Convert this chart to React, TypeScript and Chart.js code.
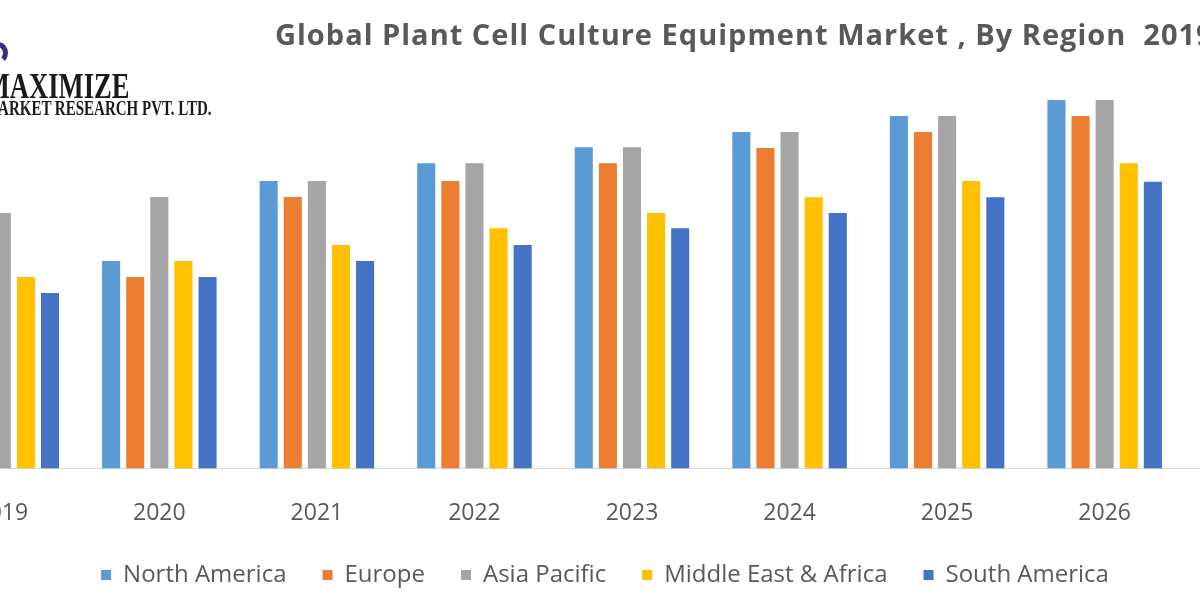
import React, { useEffect, useRef } from "react";
import { Chart, registerables } from "chart.js";

Chart.register(...registerables);

const years = ["2019", "2020", "2021", "2022", "2023", "2024", "2025", "2026", "2027"];
const northAmerica = [47.8, 51.8, 71.8, 76.2, 80.2, 84.0, 88.0, 92.0, null];
const europe = [43.8, 47.8, 67.8, 71.8, 76.2, 80.0, 84.0, 88.0, null];
const asiaPacific = [63.8, 67.8, 71.8, 76.2, 80.2, 84.0, 88.0, 92.0, null];
const middleEastAfrica = [47.8, 51.8, 55.8, 60.0, 63.8, 67.7, 71.8, 76.2, null];
const southAmerica = [43.8, 47.8, 51.8, 55.8, 60.0, 63.8, 67.7, 71.6, null];

const seriesNames = ["North America", "Europe", "Asia Pacific", "Middle East & Africa", "South America"];
const seriesColors = ["#5B9BD5", "#ED7D31", "#A5A5A5", "#FFC000", "#4472C4"];
const seriesValues = [northAmerica, europe, asiaPacific, middleEastAfrica, southAmerica];

const titleText = "Global Plant Cell Culture Equipment Market , By Region  2019-2027";

export default function App() {
  const canvasRef = useRef<HTMLCanvasElement | null>(null);

  useEffect(() => {
    if (!canvasRef.current) return;
    const chart = new Chart(canvasRef.current, {
      type: "bar",
      data: {
        labels: years,
        datasets: seriesNames.map((name, i) => ({
          label: name,
          data: seriesValues[i],
          backgroundColor: seriesColors[i],
          borderWidth: 0,
          categoryPercentage: 0.765,
          barPercentage: 0.75,
        })),
      },
      options: {
        responsive: true,
        maintainAspectRatio: false,
        animation: false,
        layout: { padding: { top: 68, bottom: 3, left: 0, right: 0 } },
        plugins: {
          title: { display: false },
          tooltip: { enabled: false },
          legend: {
            display: true,
            position: "bottom",
            labels: {
              boxWidth: 10,
              boxHeight: 10,
              padding: 36,
              color: "#595959",
              font: { family: "'Open Sans', sans-serif", size: 24 },
            },
          },
        },
        scales: {
          x: {
            grid: { display: false, drawTicks: true, tickLength: 31 },
            border: { display: true, color: "#D9D9D9", width: 1 },
            ticks: {
              color: "#595959",
              padding: 0,
              font: { family: "'Open Sans', sans-serif", size: 23 },
            },
          },
          y: {
            display: true,
            position: "left",
            min: 0,
            max: 100,
            grid: { display: false },
            border: { display: false },
            ticks: { display: false },
            afterFit: (scale: any) => {
              scale.width = 54;
            },
          },
        },
      },
    });
    return () => chart.destroy();
  }, []);

  return (
    <div
      style={{
        position: "fixed",
        left: 0,
        top: 0,
        width: 1200,
        height: 600,
        overflow: "hidden",
        background: "#FFFFFF",
      }}
    >
      <div style={{ position: "absolute", left: -131, top: 0, width: 1472, height: 600 }}>
        <canvas ref={canvasRef} />
      </div>
      <div
        style={{
          position: "absolute",
          left: 275,
          top: 19,
          whiteSpace: "pre",
          fontFamily: "'Open Sans', sans-serif",
          fontWeight: 700,
          fontSize: 29,
          letterSpacing: 1,
          lineHeight: 1,
          color: "#595959",
        }}
      >
        {titleText}
      </div>
      <div
        style={{
          position: "absolute",
          left: -12,
          top: 42,
          width: 20,
          height: 22,
          borderRadius: "50%",
          border: "5px solid #3B2A82",
          borderLeftColor: "transparent",
          borderBottomColor: "transparent",
          boxSizing: "border-box",
        }}
      />
      <div
        style={{
          position: "absolute",
          right: 1070,
          top: 69,
          whiteSpace: "nowrap",
          fontFamily: "'Liberation Serif', serif",
          fontWeight: 700,
          fontSize: 35,
          lineHeight: 1,
          color: "#1A1A1A",
          transform: "scaleX(0.76)",
          transformOrigin: "right center",
        }}
      >
        MAXIMIZE
      </div>
      <div
        style={{
          position: "absolute",
          right: 988,
          top: 98,
          whiteSpace: "nowrap",
          fontFamily: "'Liberation Serif', serif",
          fontWeight: 700,
          fontSize: 20,
          lineHeight: 1,
          color: "#1A1A1A",
          transform: "scaleX(0.75)",
          transformOrigin: "right center",
        }}
      >
        MARKET RESEARCH PVT. LTD.
      </div>
    </div>
  );
}
